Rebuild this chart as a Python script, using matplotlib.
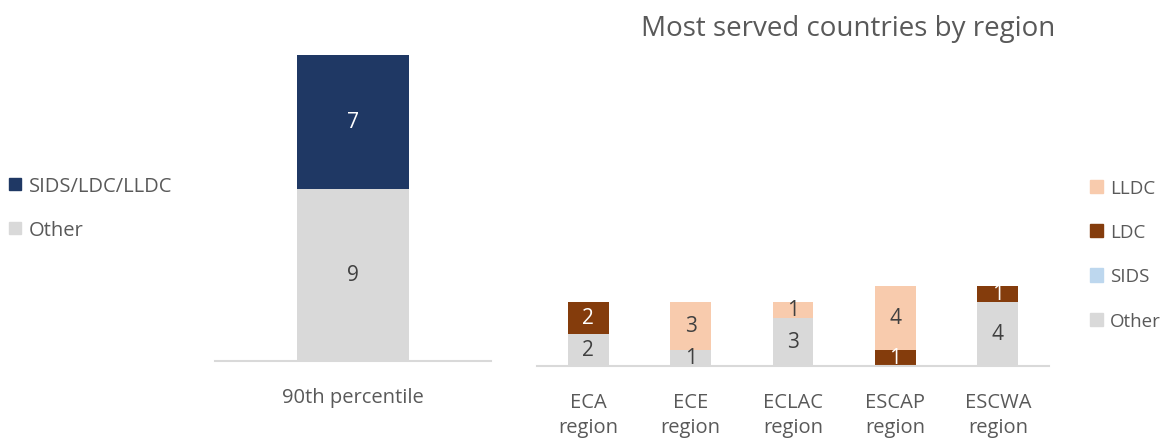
import matplotlib
matplotlib.use("Agg")
import matplotlib.pyplot as plt
from matplotlib.patches import Patch

plt.rcParams['font.family'] = ['Open Sans', 'DejaVu Sans']

# left panel data
left_categories = ["90th percentile"]
left_other = [9]
left_special = [7]

# right panel data
regions = ["ECA\nregion", "ECE\nregion", "ECLAC\nregion", "ESCAP\nregion", "ESCWA\nregion"]
other = [2, 1, 3, 0, 4]
sids = [0, 0, 0, 0, 0]
ldc = [2, 0, 0, 1, 1]
lldc = [0, 3, 1, 4, 0]

NAVY = "#1F3864"
GREY = "#D9D9D9"
BROWN = "#843C0C"
PEACH = "#F8CBAD"
LBLUE = "#BDD7EE"
TXT = "#595959"
DARK = "#404040"

W, H = 1165, 439
fig = plt.figure(figsize=(W / 100, H / 100), dpi=100)


def box(x0, y0, x1, y1):
    # pixel box (top-left origin) -> figure fraction
    return [x0 / W, 1 - y1 / H, (x1 - x0) / W, (y1 - y0) / H]


def tidy(ax, pad):
    for s in ["top", "right", "left"]:
        ax.spines[s].set_visible(False)
    ax.spines["bottom"].set_color(GREY)
    ax.spines["bottom"].set_linewidth(1.5)
    ax.set_yticks([])
    ax.tick_params(axis="x", length=0, labelsize=14.5, labelcolor=TXT, pad=pad)


def seg_labels(ax, bars, vals, color):
    labels = [str(v) if v else "" for v in vals]
    ax.bar_label(bars, labels=labels, label_type="center", color=color, fontsize=15)


# ---- left panel
ax1 = fig.add_axes(box(215, 56, 491, 362))
b1 = ax1.bar(left_categories, left_other, width=1.0, color=GREY)
b2 = ax1.bar(left_categories, left_special, width=1.0, bottom=left_other, color=NAVY)
seg_labels(ax1, b1, left_other, DARK)
seg_labels(ax1, b2, left_special, "white")
ax1.set_xlim(-1.24, 1.24)
ax1.set_ylim(0, 16)
tidy(ax1, 19)

fig.legend(handles=[Patch(color=NAVY, label="SIDS/LDC/LLDC"),
                    Patch(color=GREY, label="Other")],
           loc="upper left", bbox_to_anchor=(9 / W, 1 - 177 / H), frameon=False,
           fontsize=14.5, labelcolor=TXT, handlelength=0.6, handleheight=0.6,
           handletextpad=0.4, labelspacing=1.2, borderpad=0.0, borderaxespad=0.0)

# ---- right panel
ax2 = fig.add_axes(box(537, 47, 1049, 367))
bottom = [0] * len(regions)
for vals, col, tcol in [(other, GREY, DARK), (sids, LBLUE, DARK),
                        (ldc, BROWN, "white"), (lldc, PEACH, DARK)]:
    bars = ax2.bar(regions, vals, width=0.4, bottom=bottom, color=col)
    seg_labels(ax2, bars, vals, tcol)
    bottom = [b + v for b, v in zip(bottom, vals)]
ax2.set_xlim(-0.5, len(regions) - 0.5)
ax2.set_ylim(0, 20)
tidy(ax2, 19)
for t in ax2.get_xticklabels():
    t.set_linespacing(1.3)

fig.text(848 / W, 1 - 29 / H, "Most served countries by region", ha="center",
         va="center", fontsize=20, color=TXT)

fig.legend(handles=[Patch(color=PEACH, label="LLDC"),
                    Patch(color=BROWN, label="LDC"),
                    Patch(color=LBLUE, label="SIDS"),
                    Patch(color=GREY, label="Other")],
           loc="upper left", bbox_to_anchor=(1090 / W, 1 - 180 / H), frameon=False,
           fontsize=13.5, labelcolor=TXT, handlelength=0.7, handleheight=0.7,
           handletextpad=0.35, labelspacing=1.4, borderpad=0.0, borderaxespad=0.0)

fig.savefig("out.png", dpi=100)
